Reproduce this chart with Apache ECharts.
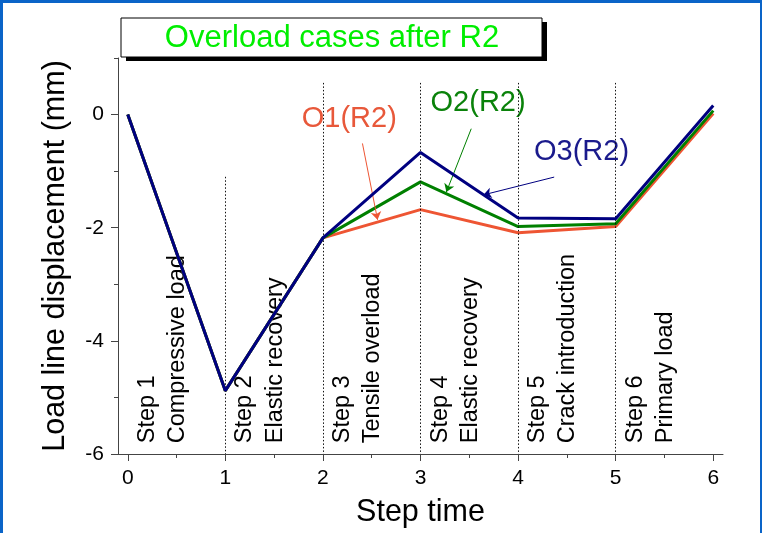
<!DOCTYPE html>
<html>
<head>
<meta charset="utf-8">
<script src="https://cdn.jsdelivr.net/npm/echarts@6/dist/echarts.min.js"></script>
<style>
html, body { margin: 0; padding: 0; background: #fff; }
#chart { width: 762px; height: 533px; }
</style>
</head>
<body>
<div id="chart"></div>
<script>
// step time and load line displacement (mm) for the three overload cases
const steps = [0, 1, 2, 3, 4, 5, 6];
const o1 = [0, -4.88, -2.18, -1.68, -2.09, -1.98, 0.02];
const o2 = [0, -4.88, -2.18, -1.19, -1.98, -1.93, 0.07];
const o3 = [0, -4.88, -2.18, -0.67, -1.83, -1.84, 0.16];

const xTicks = [0, 1, 2, 3, 4, 5, 6];
const xMinor = [0.5, 1.5, 2.5, 3.5, 4.5, 5.5];
const yTicks = [-6, -4, -2, 0];
const yMinor = [-5, -3, -1, 1];

const stepNames = ['Step 1', 'Step 2', 'Step 3', 'Step 4', 'Step 5', 'Step 6'];
const stepDescs = ['Compressive load', 'Elastic recovery', 'Tensile overload',
                   'Elastic recovery', 'Crack introduction', 'Primary load'];

// dotted dividers between steps (x, top value)
const dividerX = [1, 2, 3, 4, 5];
const dividerTop = [-1.1, 0.56, 0.56, 0.56, 0.56];

// callouts
const caseNames = ['O1(R2)', 'O2(R2)', 'O3(R2)'];
const caseLabelAt = [[2.27, -0.07], [3.59, 0.21], [4.65, -0.67]];
const arrowFrom = [[2.405, -0.51], [3.52, -0.25], [4.37, -1.105]];
const arrowTo = [[2.56, -1.86], [3.265, -1.37], [3.644, -1.42]];

const colors = ['#ee5533', '#008000', '#000080'];
const textColors = ['#e8583a', '#0a820a', '#1a1a8c'];
const FONT = '"Liberation Sans", Arial, sans-serif';

const chart = echarts.init(document.getElementById('chart'));

// texts placed in data space
const texts = [];
stepNames.forEach(function (s, i) {
  texts.push({x: i + 0.2, y: -5.81, text: s, rot: Math.PI / 2, align: 'left', color: '#000', size: 23.5});
  texts.push({x: i + 0.51, y: -5.81, text: stepDescs[i], rot: Math.PI / 2, align: 'left', color: '#000', size: 23.5});
});
caseNames.forEach(function (n, i) {
  texts.push({x: caseLabelAt[i][0], y: caseLabelAt[i][1], text: n, rot: 0, align: 'center', color: textColors[i], size: 29});
});

const seriesData = [o1, o2, o3];
const series = seriesData.map(function (vals, i) {
  return {
    name: caseNames[i],
    type: 'line',
    data: steps.map(function (x, k) { return [x, vals[k]]; }),
    showSymbol: false,
    lineStyle: {width: 3, color: colors[i]},
    itemStyle: {color: colors[i]},
    z: 3 + i,
    markLine: {
      silent: true,
      symbol: ['none', 'arrow'],
      symbolSize: 8,
      label: {show: false},
      lineStyle: {color: colors[i], width: 1, type: 'solid'},
      data: [[{coord: arrowFrom[i]}, {coord: arrowTo[i]}]]
    }
  };
});

series.push({
  type: 'custom',
  data: texts.map(function (t) { return [t.x, t.y]; }),
  silent: true,
  z: 2,
  renderItem: function (params, api) {
    const t = texts[params.dataIndex];
    const p = api.coord([api.value(0), api.value(1)]);
    return {
      type: 'text',
      x: p[0],
      y: p[1],
      rotation: t.rot,
      style: {
        text: t.text,
        fill: t.color,
        fontSize: t.size,
        fontFamily: FONT,
        align: t.align,
        textAlign: t.align,
        verticalAlign: 'middle',
        textVerticalAlign: 'middle'
      }
    };
  },
  markLine: {
    silent: true,
    symbol: ['none', 'none'],
    label: {show: false},
    lineStyle: {color: '#111', width: 1, type: [1.5, 2]},
    data: dividerX.map(function (x, i) {
      return [{coord: [x, dividerTop[i]]}, {coord: [x, -6]}];
    })
  }
});

const option = {
  animation: false,
  backgroundColor: '#fff',
  textStyle: {fontFamily: FONT},
  grid: {left: 118, right: 39, top: 58, bottom: 77},
  xAxis: [{
    type: 'value',
    min: -0.1,
    max: 6.1,
    name: 'Step time',
    nameLocation: 'middle',
    nameGap: 43,
    nameTextStyle: {fontSize: 30.5, color: '#000', fontFamily: FONT},
    axisLine: {show: true, onZero: false, lineStyle: {color: '#444', width: 1}},
    axisTick: {show: true, customValues: xTicks, length: 7, lineStyle: {color: '#444'}},
    axisLabel: {customValues: xTicks, fontSize: 21, color: '#000', margin: 14, fontFamily: FONT},
    splitLine: {show: false}
  }, {
    type: 'value',
    position: 'bottom',
    min: -0.1,
    max: 6.1,
    axisLine: {show: false, onZero: false},
    axisTick: {show: true, customValues: xMinor, length: 4, lineStyle: {color: '#444'}},
    axisLabel: {show: false},
    splitLine: {show: false}
  }],
  yAxis: [{
    type: 'value',
    min: -6,
    max: 1,
    name: 'Load line displacement (mm)',
    nameLocation: 'middle',
    nameGap: 47,
    nameTextStyle: {fontSize: 30.5, color: '#000', fontFamily: FONT},
    axisLine: {show: true, onZero: false, lineStyle: {color: '#444', width: 1}},
    axisTick: {show: true, customValues: yTicks, length: 7, lineStyle: {color: '#444'}},
    axisLabel: {customValues: yTicks, fontSize: 21, color: '#000', margin: 14, fontFamily: FONT},
    splitLine: {show: false}
  }, {
    type: 'value',
    position: 'left',
    min: -6,
    max: 1,
    axisLine: {show: false, onZero: false},
    axisTick: {show: true, customValues: yMinor, length: 4, lineStyle: {color: '#444'}},
    axisLabel: {show: false},
    splitLine: {show: false}
  }],
  graphic: [
    // frame
    {type: 'rect', left: 0, top: 0, shape: {width: 762, height: 3}, style: {fill: '#0a64c8'}, silent: true},
    {type: 'rect', left: 0, top: 0, shape: {width: 3, height: 533}, style: {fill: '#0a64c8'}, silent: true},
    {type: 'rect', left: 760, top: 0, shape: {width: 2, height: 533}, style: {fill: '#0a64c8'}, silent: true},
    // title box with shadow
    {type: 'rect', x: 126, y: 22, shape: {width: 421, height: 39}, style: {fill: '#000'}, z: 10, silent: true},
    {type: 'rect', x: 121, y: 18, shape: {width: 421, height: 39}, style: {fill: '#fff', stroke: '#000', lineWidth: 1}, z: 11, silent: true},
    {type: 'text', x: 332, y: 38, z: 12, silent: true,
     style: {text: 'Overload cases after R2', fill: '#00ee00', fontSize: 31, fontFamily: FONT,
             align: 'center', textAlign: 'center', verticalAlign: 'middle', textVerticalAlign: 'middle'}}
  ],
  series: series
};

chart.setOption(option);
</script>
</body>
</html>
